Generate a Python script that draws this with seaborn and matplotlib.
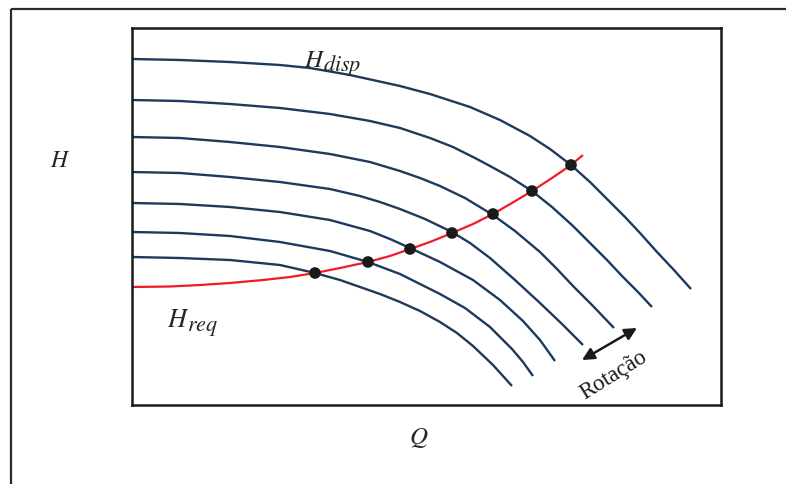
import numpy as np
import pandas as pd
import matplotlib
matplotlib.use("Agg")
import matplotlib.pyplot as plt
from matplotlib.lines import Line2D
import seaborn as sns

# Pump head curves H_disp(Q) at seven rotation speeds (highest speed first)
q_n1 = [0, 48, 98, 148, 178, 218, 268, 298, 338, 368, 398, 418, 439, 458, 475, 493, 508, 525, 541, 559]
h_n1 = [346, 345, 343, 340, 337, 330, 319, 311, 298, 285, 269, 256, 240, 223, 206, 188, 172, 153, 136, 116]
q_n2 = [0, 48, 98, 148, 198, 238, 268, 298, 321, 343, 358, 378, 400, 420, 441, 458, 475, 490, 505, 520]
h_n2 = [305, 304, 301, 297, 291, 284, 277, 267, 258, 247, 239, 228, 214, 198, 179, 162, 145, 129, 114, 98]
q_n3 = [0, 48, 98, 148, 198, 238, 268, 288, 308, 333, 361, 383, 408, 425, 441, 461, 482]
h_n3 = [268, 267, 263, 258, 251, 243, 234, 227, 219, 207, 190, 174, 153, 136, 119, 99, 77]
q_n4 = [0, 48, 98, 148, 198, 228, 248, 268, 293, 320, 338, 358, 383, 408, 430, 451]
h_n4 = [233, 232, 228, 223, 216, 209, 203, 196, 186, 173, 162, 147, 125, 102, 81, 60]
q_n5 = [0, 48, 98, 148, 198, 238, 258, 278, 308, 341, 368, 391, 408, 423]
h_n5 = [202, 201, 198, 193, 185, 174, 166, 157, 143, 125, 105, 84, 65, 44]
q_n6 = [0, 48, 98, 148, 198, 236, 268, 308, 333, 358, 380, 391, 401]
h_n6 = [173, 172, 169, 163, 154, 143, 131, 111, 97, 78, 56, 43, 29]
q_n7 = [0, 48, 98, 148, 183, 208, 228, 248, 268, 288, 308, 325, 341, 361, 380]
h_n7 = [148, 147, 145, 140, 132, 125, 118, 111, 103, 94, 83, 72, 59, 40, 19]

# System curve H_req(Q)
q_req = [0, 38, 68, 98, 131, 158, 183, 208, 236, 258, 278, 298, 320, 341, 361, 380, 400, 420, 439, 451]
h_req = [118, 118.5, 120, 122, 125, 128, 132, 137, 143, 149, 156, 163, 172, 181, 191, 202, 214, 227, 240, 250]

# Operating points (pump curve meets system curve)
q_op = [183, 236, 278, 320, 361, 400, 439]
h_op = [132, 143, 156, 172, 191, 214, 240]

pump_q = [q_n1, q_n2, q_n3, q_n4, q_n5, q_n6, q_n7]
pump_h = [h_n1, h_n2, h_n3, h_n4, h_n5, h_n6, h_n7]

rows = []
for i, (qs, hs) in enumerate(zip(pump_q, pump_h)):
    for j, (q, h) in enumerate(zip(qs, hs)):
        rows.append({"curva": f"n{i + 1}", "ordem": j, "Q": q, "H": h})
pumps = pd.DataFrame(rows)
system = pd.DataFrame({"Q": q_req, "H": h_req})
ops = pd.DataFrame({"Q": q_op, "H": h_op})

sns.set_theme(style="white")
plt.rcParams["mathtext.fontset"] = "stix"
plt.rcParams["lines.solid_joinstyle"] = "round"
plt.rcParams["lines.solid_capstyle"] = "butt"

W, H_PX = 786, 485
fig = plt.figure(figsize=(W / 100, H_PX / 100), dpi=100)


def fx(px):
    return px / W


def fy(py):
    return 1 - py / H_PX


# outer frame (top and left edges only)
fig.add_artist(Line2D([fx(11), 1.0], [fy(10), fy(10)],
                      transform=fig.transFigure, color="#2b2b2b", lw=1.6))
fig.add_artist(Line2D([fx(11), fx(11)], [0.0, fy(10)],
                      transform=fig.transFigure, color="#2b2b2b", lw=1.6))

left, right, top, bottom = 132, 721, 29, 406
ax = fig.add_axes([fx(left), fy(bottom),
                   (right - left) / W, (bottom - top) / H_PX])

sns.lineplot(data=pumps, x="Q", y="H", units="curva", estimator=None,
             sort=False, color="#1d3a5c", lw=1.7, ax=ax)
sns.lineplot(data=system, x="Q", y="H", sort=False, color="#ee1c25",
             lw=1.6, ax=ax)
sns.scatterplot(data=ops, x="Q", y="H", color="#1a1a1a", s=70,
                edgecolor="none", zorder=5, ax=ax)

ax.set_xlim(0, right - left)
ax.set_ylim(0, bottom - top)
ax.set_xticks([])
ax.set_yticks([])
ax.set_xlabel("")
ax.set_ylabel("")
for sp in ax.spines.values():
    sp.set_color("#1a1a1a")
    sp.set_linewidth(1.8)

# axis symbols
fig.text(fx(60), fy(160), r"$H$", fontsize=17, ha="center", va="center")
fig.text(fx(419), fy(438), r"$Q$", fontsize=18, ha="center", va="center")

# curve names: main symbol plus italic subscript
fig.text(fx(304), fy(67), r"$H$", fontsize=18, ha="left", va="baseline")
fig.text(fx(323), fy(71), r"$disp$", fontsize=16, ha="left", va="baseline")
fig.text(fx(167), fy(327), r"$H$", fontsize=19, ha="left", va="baseline")
fig.text(fx(187), fy(331), r"$req$", fontsize=16, ha="left", va="baseline")

# rotation arrow and label
ax.annotate("", xy=(637 - left, bottom - 329), xytext=(582 - left, bottom - 361),
            arrowprops=dict(arrowstyle="<|-|>", color="#1a1a1a", lw=1.8,
                            mutation_scale=18, shrinkA=0, shrinkB=0))
ax.text(614 - left, bottom - 375, "Rotação", fontsize=16.5,
        family="Liberation Serif", rotation=32, rotation_mode="anchor",
        ha="center", va="center", color="#1a1a1a")

fig.savefig("out.png", dpi=100)
